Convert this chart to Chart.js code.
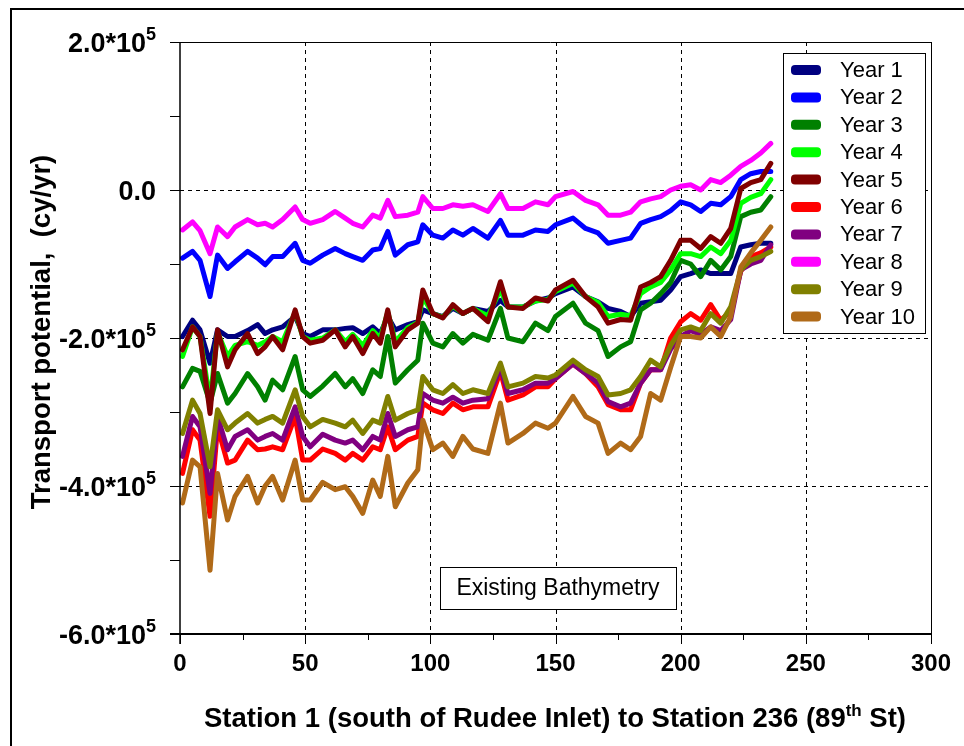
<!DOCTYPE html>
<html><head><meta charset="utf-8">
<script src="https://cdn.jsdelivr.net/npm/chart.js@4.4.1/dist/chart.umd.min.js"></script>
<style>html,body{margin:0;padding:0;background:#fff}canvas{display:block}</style>
</head><body>
<canvas id="c" width="964" height="746"></canvas>
<script>
// Station numbers (x) shared by all series
const stations = [1,5,8,12,15,19,22,27,31,34,37,41,46,49,52,57,
  62,66,69,73,77,80,83,86,91,95,97,101,105,109,113,117,
  123,128,131,137,142,147,150,157,162,167,171,176,
  180,184,188,192,196,200,204,208,212,216,220,224,228,232,236];

// Transport potential, cy/yr
const year1 = [-198e3,-176e3,-189e3,-234e3,-189e3,-198e3,-198e3,-190e3,-182e3,-194e3,-189e3,-185e3,-171e3,-194e3,-198e3,-189e3,
  -189e3,-187e3,-186e3,-194e3,-185e3,-194e3,-171e3,-189e3,-182e3,-178e3,-162e3,-167e3,-171e3,-160e3,-167e3,-160e3,
  -164e3,-149e3,-158e3,-158e3,-150e3,-146e3,-140e3,-131e3,-144e3,-151e3,-160e3,-164e3,
  -171e3,-153e3,-151e3,-149e3,-135e3,-117e3,-113e3,-108e3,-113e3,-113e3,-113e3,-77e3,-74e3,-72e3,-72e3];
const year2 = [-92e3,-83e3,-95e3,-144e3,-88e3,-106e3,-97e3,-83e3,-92e3,-101e3,-90e3,-90e3,-72e3,-95e3,-99e3,-88e3,
  -79e3,-86e3,-90e3,-95e3,-81e3,-79e3,-56e3,-88e3,-74e3,-70e3,-47e3,-61e3,-65e3,-54e3,-61e3,-52e3,
  -65e3,-41e3,-61e3,-61e3,-54e3,-56e3,-47e3,-38e3,-52e3,-58e3,-72e3,-68e3,
  -65e3,-45e3,-40e3,-36e3,-28e3,-16e3,-20e3,-29e3,-18e3,-20e3,-9e3,14e3,22e3,25e3,25e3];
const year3 = [-266e3,-241e3,-245e3,-288e3,-248e3,-288e3,-275e3,-248e3,-266e3,-284e3,-257e3,-270e3,-225e3,-270e3,-279e3,-265e3,
  -248e3,-266e3,-255e3,-275e3,-243e3,-252e3,-198e3,-261e3,-243e3,-230e3,-180e3,-207e3,-212e3,-194e3,-207e3,-195e3,
  -203e3,-160e3,-200e3,-205e3,-180e3,-190e3,-171e3,-153e3,-180e3,-190e3,-225e3,-212e3,
  -205e3,-162e3,-153e3,-140e3,-125e3,-95e3,-100e3,-117e3,-95e3,-108e3,-90e3,-36e3,-30e3,-27e3,-9e3];
const year4 = [-225e3,-185e3,-198e3,-285e3,-192e3,-225e3,-210e3,-205e3,-210e3,-205e3,-198e3,-205e3,-165e3,-198e3,-203e3,-200e3,
  -189e3,-205e3,-195e3,-210e3,-190e3,-200e3,-165e3,-205e3,-186e3,-179e3,-145e3,-167e3,-172e3,-157e3,-167e3,-160e3,
  -170e3,-135e3,-158e3,-158e3,-150e3,-148e3,-137e3,-126e3,-144e3,-152e3,-171e3,-168e3,
  -170e3,-140e3,-131e3,-125e3,-108e3,-86e3,-86e3,-90e3,-77e3,-86e3,-68e3,-18e3,-10e3,-5e3,14e3];
const year5 = [-216e3,-185e3,-198e3,-302e3,-189e3,-239e3,-216e3,-194e3,-221e3,-212e3,-198e3,-216e3,-162e3,-198e3,-207e3,-203e3,
  -189e3,-212e3,-198e3,-221e3,-194e3,-207e3,-162e3,-212e3,-189e3,-180e3,-135e3,-167e3,-173e3,-155e3,-167e3,-160e3,
  -178e3,-124e3,-158e3,-160e3,-146e3,-150e3,-135e3,-122e3,-144e3,-158e3,-180e3,-175e3,
  -176e3,-131e3,-125e3,-117e3,-95e3,-68e3,-68e3,-79e3,-63e3,-72e3,-52e3,2e3,10e3,14e3,36e3];
const year6 = [-383e3,-324e3,-338e3,-441e3,-320e3,-369e3,-365e3,-338e3,-351e3,-350e3,-347e3,-351e3,-306e3,-365e3,-365e3,-350e3,
  -356e3,-365e3,-356e3,-365e3,-347e3,-351e3,-320e3,-351e3,-338e3,-333e3,-288e3,-297e3,-302e3,-288e3,-297e3,-293e3,
  -293e3,-245e3,-284e3,-277e3,-266e3,-266e3,-255e3,-235e3,-248e3,-266e3,-290e3,-297e3,
  -297e3,-261e3,-243e3,-243e3,-200e3,-178e3,-167e3,-176e3,-155e3,-176e3,-164e3,-110e3,-90e3,-85e3,-77e3];
const year7 = [-360e3,-306e3,-320e3,-410e3,-306e3,-351e3,-333e3,-324e3,-338e3,-333e3,-329e3,-338e3,-293e3,-333e3,-347e3,-330e3,
  -338e3,-342e3,-338e3,-351e3,-333e3,-338e3,-302e3,-333e3,-324e3,-320e3,-275e3,-284e3,-288e3,-280e3,-288e3,-284e3,
  -282e3,-240e3,-275e3,-270e3,-261e3,-261e3,-255e3,-235e3,-248e3,-261e3,-286e3,-293e3,
  -288e3,-261e3,-243e3,-243e3,-215e3,-198e3,-190e3,-195e3,-185e3,-190e3,-175e3,-108e3,-100e3,-95e3,-74e3];
const year8 = [-54e3,-43e3,-55e3,-86e3,-50e3,-63e3,-50e3,-40e3,-47e3,-45e3,-50e3,-40e3,-23e3,-40e3,-45e3,-40e3,
  -29e3,-38e3,-45e3,-50e3,-34e3,-38e3,-14e3,-36e3,-34e3,-30e3,-9e3,-25e3,-25e3,-20e3,-22e3,-20e3,
  -29e3,-5e3,-25e3,-25e3,-16e3,-20e3,-9e3,-2e3,-14e3,-20e3,-34e3,-34e3,
  -30e3,-16e3,-12e3,-9e3,0,5e3,7e3,0,14e3,10e3,20e3,32e3,40e3,50e3,63e3];
const year9 = [-329e3,-284e3,-302e3,-374e3,-297e3,-324e3,-315e3,-302e3,-315e3,-310e3,-306e3,-315e3,-270e3,-306e3,-320e3,-310e3,
  -315e3,-320e3,-311e3,-329e3,-311e3,-315e3,-279e3,-311e3,-302e3,-297e3,-252e3,-270e3,-275e3,-263e3,-275e3,-270e3,
  -275e3,-234e3,-266e3,-261e3,-252e3,-254e3,-250e3,-230e3,-243e3,-252e3,-277e3,-275e3,
  -270e3,-252e3,-230e3,-239e3,-210e3,-189e3,-185e3,-190e3,-167e3,-180e3,-158e3,-108e3,-95e3,-90e3,-83e3];
const year10 = [-423e3,-365e3,-374e3,-514e3,-383e3,-446e3,-414e3,-387e3,-423e3,-400e3,-387e3,-419e3,-365e3,-419e3,-419e3,-395e3,
  -405e3,-401e3,-414e3,-437e3,-392e3,-414e3,-360e3,-428e3,-396e3,-378e3,-311e3,-351e3,-342e3,-360e3,-333e3,-350e3,
  -356e3,-288e3,-342e3,-329e3,-315e3,-322e3,-315e3,-279e3,-306e3,-315e3,-356e3,-342e3,
  -351e3,-333e3,-275e3,-284e3,-240e3,-198e3,-198e3,-200e3,-185e3,-198e3,-171e3,-104e3,-85e3,-68e3,-50e3];

const seriesNames = ['Year 1','Year 2','Year 3','Year 4','Year 5','Year 6','Year 7','Year 8','Year 9','Year 10'];
const seriesValues = [year1,year2,year3,year4,year5,year6,year7,year8,year9,year10];
const seriesColors = ['#000080','#0000ff','#008000','#00ff00','#800000','#ff0000','#800080','#ff00ff','#808000','#b06a18'];

// Axis ticks & labels
const xTickValues = [0,25,50,75,100,125,150,175,200,225,250,275,300];
const xTickLabels = ['0','50','100','150','200','250','300'];
const xGridValues = [50,100,150,200,250];
const yTickValues = [200000,100000,0,-100000,-200000,-300000,-400000,-500000,-600000];
const yLabelValues = [200000,0,-200000,-400000,-600000];
const yTickLabels = ['2.0*10^5','0.0','-2.0*10^5','-4.0*10^5','-6.0*10^5'];
const yGridValues = [0,-200000,-400000];
const xTitle = ['Station 1 (south of Rudee Inlet) to Station 236 (89','th',' St)'];
const yTitle = 'Transport potential,  (cy/yr)';
const noteText = 'Existing Bathymetry';

const FONT = '"Liberation Sans", Arial, sans-serif';

const decor = {
  id: 'decor',
  beforeDatasetsDraw(chart) {
    const {ctx, chartArea: a, scales: {x, y}} = chart;
    ctx.save();
    ctx.strokeStyle = '#000'; ctx.lineWidth = 1; ctx.setLineDash([4, 4]);
    xGridValues.forEach(v => {
      const p = Math.round(x.getPixelForValue(v)) + 0.5;
      ctx.beginPath(); ctx.moveTo(p, a.top); ctx.lineTo(p, a.bottom); ctx.stroke();
    });
    yGridValues.forEach(v => {
      const p = Math.round(y.getPixelForValue(v)) + 0.5;
      ctx.beginPath(); ctx.moveTo(a.left, p); ctx.lineTo(a.right, p); ctx.stroke();
    });
    ctx.restore();
  },
  afterDraw(chart) {
    const {ctx, chartArea: a, scales: {x, y}} = chart;
    ctx.save();
    ctx.setLineDash([]);
    ctx.strokeStyle = '#000';
    // frame
    ctx.lineWidth = 1;
    ctx.beginPath(); ctx.moveTo(a.left - 10, a.top + 0.5); ctx.lineTo(a.right, a.top + 0.5); ctx.stroke();
    ctx.beginPath(); ctx.moveTo(a.right + 0.5, a.top); ctx.lineTo(a.right + 0.5, a.bottom + 10); ctx.stroke();
    ctx.lineWidth = 1.5;
    ctx.beginPath(); ctx.moveTo(a.left, a.top); ctx.lineTo(a.left, a.bottom + 10); ctx.stroke();
    ctx.lineWidth = 2;
    ctx.beginPath(); ctx.moveTo(a.left - 10, a.bottom); ctx.lineTo(a.right, a.bottom); ctx.stroke();
    // ticks
    ctx.lineWidth = 1;
    yTickValues.forEach(v => {
      const p = Math.round(y.getPixelForValue(v)) + 0.5;
      ctx.beginPath(); ctx.moveTo(a.left - 10, p); ctx.lineTo(a.left, p); ctx.stroke();
    });
    xTickValues.forEach(v => {
      const p = Math.round(x.getPixelForValue(v)) + 0.5;
      const len = (v % 50 === 0) ? 10 : 6;
      ctx.beginPath(); ctx.moveTo(p, a.bottom); ctx.lineTo(p, a.bottom + len); ctx.stroke();
    });
    // x tick labels
    ctx.fillStyle = '#000';
    ctx.font = 'bold 24px ' + FONT;
    ctx.textAlign = 'center'; ctx.textBaseline = 'middle';
    xTickLabels.forEach(t => {
      ctx.fillText(t, x.getPixelForValue(+t), a.bottom + 30);
    });
    // y tick labels
    const F1 = 'bold 27px ' + FONT, F2 = 'bold 18px ' + FONT;
    yTickLabels.forEach((t, i) => {
      const p = y.getPixelForValue(yLabelValues[i]);
      const parts = t.split('^');
      ctx.textAlign = 'left'; ctx.textBaseline = 'middle';
      ctx.font = F1;
      const w1 = ctx.measureText(parts[0]).width;
      let w2 = 0;
      if (parts[1]) { ctx.font = F2; w2 = ctx.measureText(parts[1]).width; }
      const xr = a.left - 24;
      ctx.font = F1;
      ctx.fillText(parts[0], xr - w1 - w2, p + 3);
      if (parts[1]) { ctx.font = F2; ctx.fillText(parts[1], xr - w2, p - 7); }
    });
    // x title with superscript
    {
      const T1 = 'bold 27.5px ' + FONT, T2 = 'bold 17px ' + FONT;
      ctx.textBaseline = 'alphabetic'; ctx.textAlign = 'left';
      ctx.font = T1; const w1 = ctx.measureText(xTitle[0]).width; const w3 = ctx.measureText(xTitle[2]).width;
      ctx.font = T2; const w2 = ctx.measureText(xTitle[1]).width;
      const cx = 555; const by = 727;
      let sx = cx - (w1 + w2 + w3) / 2;
      ctx.font = T1; ctx.fillText(xTitle[0], sx, by);
      ctx.font = T2; ctx.fillText(xTitle[1], sx + w1, by - 11);
      ctx.font = T1; ctx.fillText(xTitle[2], sx + w1 + w2, by);
    }
    // y title
    ctx.save();
    ctx.translate(42, 332);
    ctx.rotate(-Math.PI / 2);
    ctx.textAlign = 'center'; ctx.textBaseline = 'middle';
    ctx.font = 'bold 27.5px ' + FONT;
    ctx.fillText(yTitle, 0, 0);
    ctx.restore();
    // legend
    const lx = 783, ly = 53, lw = 142, lh = 280;
    ctx.fillStyle = '#fff'; ctx.fillRect(lx, ly, lw, lh);
    ctx.lineWidth = 1; ctx.strokeStyle = '#000';
    ctx.strokeRect(lx + 0.5, ly + 0.5, lw, lh);
    chart.data.datasets.forEach((ds, i) => {
      const cy = ly + 17 + i * 27.4;
      ctx.fillStyle = ds.borderColor;
      ctx.beginPath();
      if (ctx.roundRect) ctx.roundRect(lx + 8, cy - 5, 30, 10, 4); else ctx.rect(lx + 8, cy - 5, 30, 10);
      ctx.fill();
      ctx.fillStyle = '#000';
      ctx.font = '22px ' + FONT; ctx.textAlign = 'left'; ctx.textBaseline = 'middle';
      ctx.fillText(ds.label, lx + 57, cy + 1);
    });
    // annotation box
    const bx = 440, by2 = 567, bw = 236, bh = 42;
    ctx.fillStyle = '#fff'; ctx.fillRect(bx, by2, bw, bh);
    ctx.strokeRect(bx + 0.5, by2 + 0.5, bw, bh);
    ctx.fillStyle = '#000'; ctx.font = '23px ' + FONT; ctx.textAlign = 'center'; ctx.textBaseline = 'middle';
    ctx.fillText(noteText, bx + bw / 2, by2 + bh / 2 + 1);
    // outer picture border (left & top)
    ctx.lineWidth = 2;
    ctx.beginPath(); ctx.moveTo(11, 746); ctx.lineTo(11, 9); ctx.lineTo(964, 9); ctx.stroke();
    ctx.restore();
  }
};

const datasets = seriesNames.map((name, i) => ({
  label: name,
  data: stations.map((s, j) => ({x: s, y: seriesValues[i][j]})),
  borderColor: seriesColors[i],
  backgroundColor: seriesColors[i],
  borderWidth: 5,
  pointRadius: 0,
  tension: 0,
  fill: false,
  borderJoinStyle: 'round',
  borderCapStyle: 'round',
  order: 10 - i
}));

new Chart(document.getElementById('c'), {
  type: 'line',
  data: {datasets},
  options: {
    responsive: false,
    animation: false,
    devicePixelRatio: 1,
    layout: {padding: {left: 0, right: 33, top: 42, bottom: 0}},
    scales: {
      x: {type: 'linear', min: 0, max: 300,
          ticks: {display: false}, grid: {display: false}, border: {display: false},
          afterFit(s) { s.height = 112; }},
      y: {type: 'linear', min: -600000, max: 200000,
          ticks: {display: false}, grid: {display: false}, border: {display: false},
          afterFit(s) { s.width = 180; }}
    },
    plugins: {legend: {display: false}, tooltip: {enabled: false}}
  },
  plugins: [decor]
});
</script>
</body></html>
